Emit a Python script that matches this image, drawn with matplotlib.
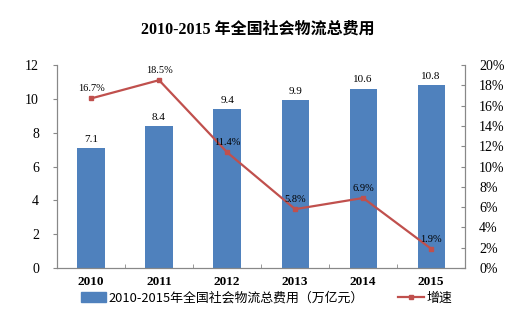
import numpy as np
import matplotlib.pyplot as plt
from matplotlib.lines import Line2D
from matplotlib.patches import Patch

years = ['2010', '2011', '2012', '2013', '2014', '2015']
cost = [7.1, 8.4, 9.4, 9.9, 10.6, 10.8]        # 万亿元
growth = [16.7, 18.5, 11.4, 5.8, 6.9, 1.9]     # %

bar_color = '#4F81BD'
line_color = '#C0504D'
serif = ['Liberation Serif', 'Noto Sans CJK SC']
cjk = ['Noto Sans CJK SC', 'DejaVu Sans']

fig = plt.figure(figsize=(5.16, 3.33), dpi=100)
ax = fig.add_axes([0.1105, 0.195, 0.791, 0.61])
x = np.arange(len(years))

ax.bar(x, cost, width=0.4, color=bar_color, zorder=2)
for xi, v in zip(x, cost):
    ax.text(xi, v + 0.25, f'{v}', ha='center', va='bottom', fontsize=8, family=serif)

ax.set_xlim(-0.5, len(years) - 0.5)
ax.set_ylim(0, 12)
ax.set_yticks(range(0, 13, 2))
ax.set_xticks(x)
ax.set_xticks(np.arange(0.5, len(years) - 1, 1), minor=True)
ax.set_xticklabels(years, family=serif, fontsize=9.5, fontweight='bold')
ax.tick_params(axis='x', which='major', length=0, pad=6)
ax.tick_params(axis='x', which='minor', length=3, direction='in', colors='#888888')
ax.tick_params(axis='y', labelsize=10, length=3, direction='out', colors='#888888', labelcolor='black', pad=10)
for lab in ax.get_yticklabels():
    lab.set_family(serif)

ax2 = ax.twinx()
ax2.plot(x, growth, color=line_color, lw=1.6, marker='s', ms=3, zorder=3)
ax2.set_ylim(0, 20)
ax2.set_yticks(range(0, 21, 2))
ax2.set_yticklabels([f'{t}%' for t in range(0, 21, 2)], family=serif, fontsize=10)
ax2.tick_params(axis='y', length=3, direction='in', colors='#888888', labelcolor='black', pad=10)
for xi, g in zip(x, growth):
    ax2.text(xi, g + 0.5, f'{g}%', ha='center', va='bottom', fontsize=7.5, family=serif)

for a in (ax, ax2):
    a.spines['top'].set_visible(False)
    for s in ('left', 'right', 'bottom'):
        a.spines[s].set_color('#888888')

fig.text(0.5, 0.91, '2010-2015 年全国社会物流总费用', ha='center', va='center',
         fontsize=11.5, fontweight='bold', family=['Liberation Serif', 'Noto Sans CJK SC'])

handles = [Patch(color=bar_color), Line2D([], [], color=line_color, lw=1.6, marker='s', ms=3)]
fig.legend(handles, ['2010-2015年全国社会物流总费用（万亿元）', '增速'],
           loc='center', bbox_to_anchor=(0.516, 0.105), ncol=2, frameon=False,
           prop={'family': cjk, 'size': 9.3}, handlelength=2.0, columnspacing=2.6, handletextpad=0.2)

fig.savefig('out.png', dpi=100)
